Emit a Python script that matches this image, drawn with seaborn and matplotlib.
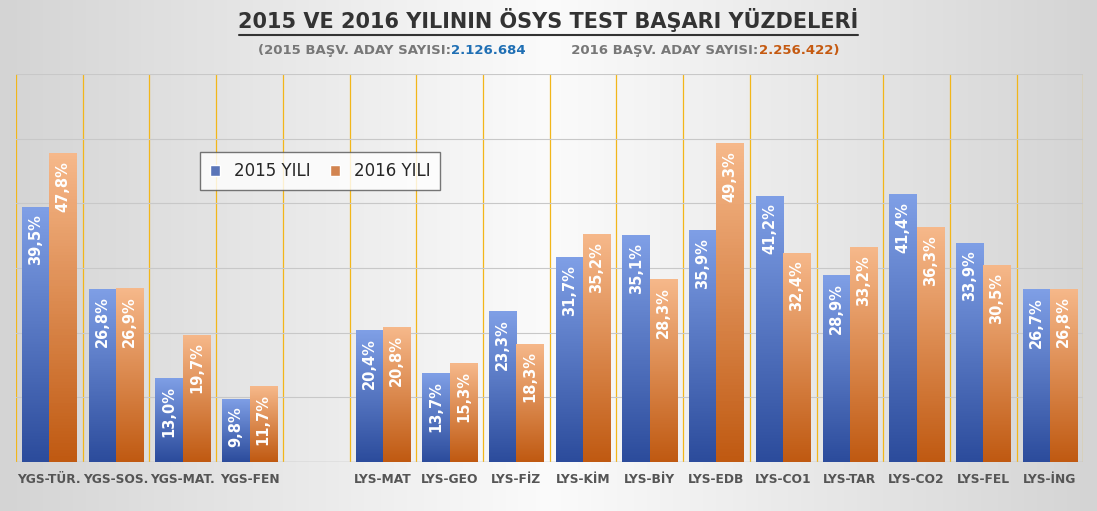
import numpy as np
import pandas as pd
import matplotlib
matplotlib.use("Agg")
import matplotlib.pyplot as plt
import seaborn as sns
from matplotlib.colors import LinearSegmentedColormap

categories = ["YGS-TÜR.", "YGS-SOS.", "YGS-MAT.", "YGS-FEN", " ", "LYS-MAT", "LYS-GEO", "LYS-FİZ",
              "LYS-KİM", "LYS-BİY", "LYS-EDB", "LYS-CO1", "LYS-TAR", "LYS-CO2", "LYS-FEL", "LYS-İNG"]
v2015 = [39.5, 26.8, 13.0, 9.8, np.nan, 20.4, 13.7, 23.3, 31.7, 35.1, 35.9, 41.2, 28.9, 41.4, 33.9, 26.7]
v2016 = [47.8, 26.9, 19.7, 11.7, np.nan, 20.8, 15.3, 18.3, 35.2, 28.3, 49.3, 32.4, 33.2, 36.3, 30.5, 26.8]
series = ["2015 YILI", "2016 YILI"]

df = pd.DataFrame({"cat": categories * 2, "val": v2015 + v2016,
                   "yil": [series[0]] * len(categories) + [series[1]] * len(categories)})

sns.set_style("white")
plt.rcParams['font.family'] = ['DejaVu Sans']
fig = plt.figure(figsize=(10.97, 5.11), dpi=100)
bg = LinearSegmentedColormap.from_list("bg", ["#d4d4d4", "#fbfbfb", "#d4d4d4"])
bax = fig.add_axes([0, 0, 1, 1], zorder=-5)
bax.imshow(np.linspace(0, 1, 256)[None, :], aspect="auto", cmap=bg, extent=[0, 1, 0, 1])
bax.axis("off")

ax = fig.add_axes([0.0146, 0.096, 0.973, 0.759])
ax.set_facecolor("none")
sns.barplot(data=df, x="cat", y="val", hue="yil", palette=["#4a6fc8", "#e8803a"],
            width=0.82, ax=ax, legend=True)
ax.set_ylim(0, 60)
ax.set_xlim(-0.5, len(categories) - 0.5)
ax.set_yticks(np.arange(0, 61, 10))
ax.set_yticklabels([])
ax.tick_params(left=False, length=0, pad=8)
ax.grid(axis="y", color="#c8c8c8", lw=0.8)
ax.set_axisbelow(True)
for i in range(len(categories) + 1):
    ax.axvline(i - 0.5, color="#f2b61a", lw=0.9, zorder=0)
for s in ax.spines.values():
    s.set_visible(False)
ax.axhline(0, color="#bdbdbd", lw=1)
ax.set_xlabel("")
ax.set_ylabel("")
for lab in ax.get_xticklabels():
    lab.set_fontweight("bold")
    lab.set_color("#555555")
    lab.set_fontsize(8.8)

cmaps = [LinearSegmentedColormap.from_list("b", ["#2c4c9c", "#7f9fe6"]),
         LinearSegmentedColormap.from_list("o", ["#c05a12", "#f6b88a"])]
for k, cont in enumerate(ax.containers):
    for p in cont.patches:
        h = p.get_height()
        if not np.isfinite(h) or h <= 0:
            continue
        x0, w = p.get_x(), p.get_width()
        p.set_facecolor("none")
        p.set_edgecolor("none")
        im = ax.imshow(np.linspace(0, 1, 100)[:, None], cmap=cmaps[k], origin="lower",
                       extent=[x0, x0 + w, 0, h], aspect="auto", zorder=2)
        im.set_clip_path(p)
        ax.text(x0 + w / 2, h - 1.2, f"{h:.1f}%".replace(".", ","), rotation=90,
                ha="center", va="top", color="white", fontweight="bold", fontsize=10.5, zorder=3)
ax.set_xlim(-0.5, len(categories) - 0.5)
ax.set_ylim(0, 60)

leg = ax.legend(loc="upper left", bbox_to_anchor=(0.165, 0.82), ncol=2, frameon=True,
                fancybox=False, edgecolor="#555555", fontsize=12, handlelength=0.6,
                columnspacing=1.2, borderpad=0.6)
leg.get_frame().set_facecolor("white")

fig.text(0.5, 0.945, "2015 VE 2016 YILININ ÖSYS TEST BAŞARI YÜZDELERİ", ha="center",
         fontsize=15, fontweight="bold", color="#333333")
fig.add_artist(plt.Line2D([0.218, 0.782], [0.932, 0.932], color="#333333", lw=1.5))

parts = [("(2015 BAŞV. ADAY SAYISI:", "#777777"), ("2.126.684", "#1f6fb4"),
         ("          2016 BAŞV. ADAY SAYISI:", "#777777"), ("2.256.422)", "#c55a11")]
fig.canvas.draw()
r = fig.canvas.get_renderer()
texts = []
for s, c in parts:
    texts.append(fig.text(0, 0.895, s, fontsize=9.5, fontweight="bold", color=c, ha="left"))
widths = [t.get_window_extent(r).width / fig.bbox.width for t in texts]
x = 0.5 - sum(widths) / 2
for t, w in zip(texts, widths):
    t.set_x(x)
    x += w

fig.savefig("out.png", dpi=100)
